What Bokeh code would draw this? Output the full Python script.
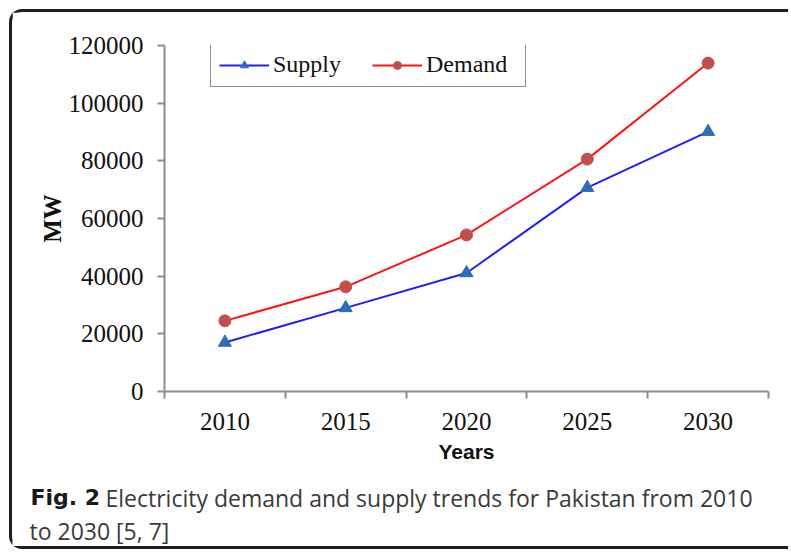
from bokeh.plotting import figure
from bokeh.layouts import column
from bokeh.models import FixedTicker, Legend, LegendItem, Label, Range1d, NumeralTickFormatter
from bokeh.embed import file_html
from bokeh.resources import INLINE

years = ["2010", "2015", "2020", "2025", "2030"]
supply = [17000, 29000, 41100, 70700, 90100]
demand = [24500, 36300, 54300, 80600, 113900]
y_ticks = [0, 20000, 40000, 60000, 80000, 100000, 120000]

x = [i + 0.5 for i in range(len(years))]

W = 776
H_MAIN, H_CAP = 460, 74
p = figure(width=W, height=H_MAIN, output_backend="svg", toolbar_location=None,
           x_range=Range1d(0, len(years)), y_range=Range1d(0, 120000),
           min_border_left=152, min_border_right=20, min_border_top=33,
           min_border_bottom=H_MAIN - 379)
p.grid.visible = False
p.outline_line_color = None
p.frame_align = False

axis_col = "#8c8c8c"
xa = p.xaxis[0]
xa.ticker = FixedTicker(ticks=x, minor_ticks=list(range(len(years) + 1)))
xa.major_label_overrides = {xi: yr for xi, yr in zip(x, years)}
xa.major_tick_out = 0
xa.major_tick_in = 0
xa.minor_tick_out = 7
xa.minor_tick_in = 0
xa.minor_tick_line_color = axis_col
xa.minor_tick_line_width = 2
xa.axis_line_color = axis_col
xa.axis_line_width = 2
xa.major_label_text_font = "Liberation Serif"
xa.major_label_text_font_size = "25px"
xa.major_label_text_color = "#111111"
xa.major_label_standoff = 14
xa.axis_label = "Years"
xa.axis_label_text_font = "Liberation Sans"
xa.axis_label_text_font_style = "bold"
xa.axis_label_text_font_size = "21px"
xa.axis_label_text_color = "#111111"
xa.axis_label_standoff = 7

ya = p.yaxis[0]
ya.ticker = FixedTicker(ticks=y_ticks, minor_ticks=[])
ya.formatter = NumeralTickFormatter(format="0")
ya.major_tick_out = 7
ya.major_tick_in = 0
ya.major_tick_line_color = axis_col
ya.major_tick_line_width = 2
ya.minor_tick_line_color = None
ya.axis_line_color = axis_col
ya.axis_line_width = 2
ya.major_label_text_font = "Liberation Serif"
ya.major_label_text_font_size = "25px"
ya.major_label_text_color = "#111111"
ya.major_label_standoff = 14
ya.axis_label = "MW"
ya.axis_label_text_font = "Liberation Serif"
ya.axis_label_text_font_style = "bold"
ya.axis_label_text_font_size = "25px"
ya.axis_label_text_color = "#111111"
ya.axis_label_standoff = 0

sl = p.line(x, supply, line_color="#2020f5", line_width=2)
sm = p.scatter(x, supply, marker="triangle", size=13, fill_color="#2e6db4", line_color="#2e6db4")
dl = p.line(x, demand, line_color="#ff1414", line_width=2)
dm = p.scatter(x, demand, marker="circle", size=12, fill_color="#c0504d", line_color="#c0504d")

legend = Legend(items=[LegendItem(label="Supply", renderers=[sl, sm]),
                       LegendItem(label="Demand", renderers=[dl, dm])],
                orientation="horizontal", location=(46, 304), margin=0,
                border_line_color="#1e1e1e", border_line_width=1.5,
                padding=8, spacing=8, glyph_width=50, glyph_height=20,
                label_standoff=4, label_width=91, label_text_font="Liberation Serif",
                label_text_font_size="24px", label_text_color="#111111")
p.add_layout(legend)

# caption panel
c = figure(width=W, height=H_CAP, output_backend="svg", toolbar_location=None, title=None,
           x_range=Range1d(0, W), y_range=Range1d(0, H_CAP),
           min_border=0, min_border_left=0, min_border_right=0,
           min_border_top=0, min_border_bottom=0,
           x_axis_location=None, y_axis_location=None)
c.grid.visible = False
c.outline_line_color = None
c.frame_align = False

cap_font = "Open Sans"
c.add_layout(Label(x=18, y=49, text="Fig. 2",
                   text_font="DejaVu Sans", text_font_style="bold", text_font_size="22px",
                   text_color="#1a1a1a", text_baseline="alphabetic"))
c.add_layout(Label(x=93, y=49,
                   text="Electricity demand and supply trends for Pakistan from 2010",
                   text_font=cap_font, text_font_size="23px",
                   text_color="#3a3a3a", text_baseline="alphabetic"))
c.add_layout(Label(x=17, y=16, text="to 2030 [5, 7]",
                   text_font=cap_font, text_font_size="23px",
                   text_color="#3a3a3a", text_baseline="alphabetic"))

layout = column(p, c, spacing=0,
                styles={"margin-left": "9px", "margin-top": "9px",
                        "border-left": "3px solid #1e1e1e", "border-top": "3px solid #1e1e1e",
                        "border-bottom": "3px solid #1e1e1e",
                        "border-top-left-radius": "13px", "border-bottom-left-radius": "13px"})

open("out.html", "w").write(file_html(layout, INLINE))
